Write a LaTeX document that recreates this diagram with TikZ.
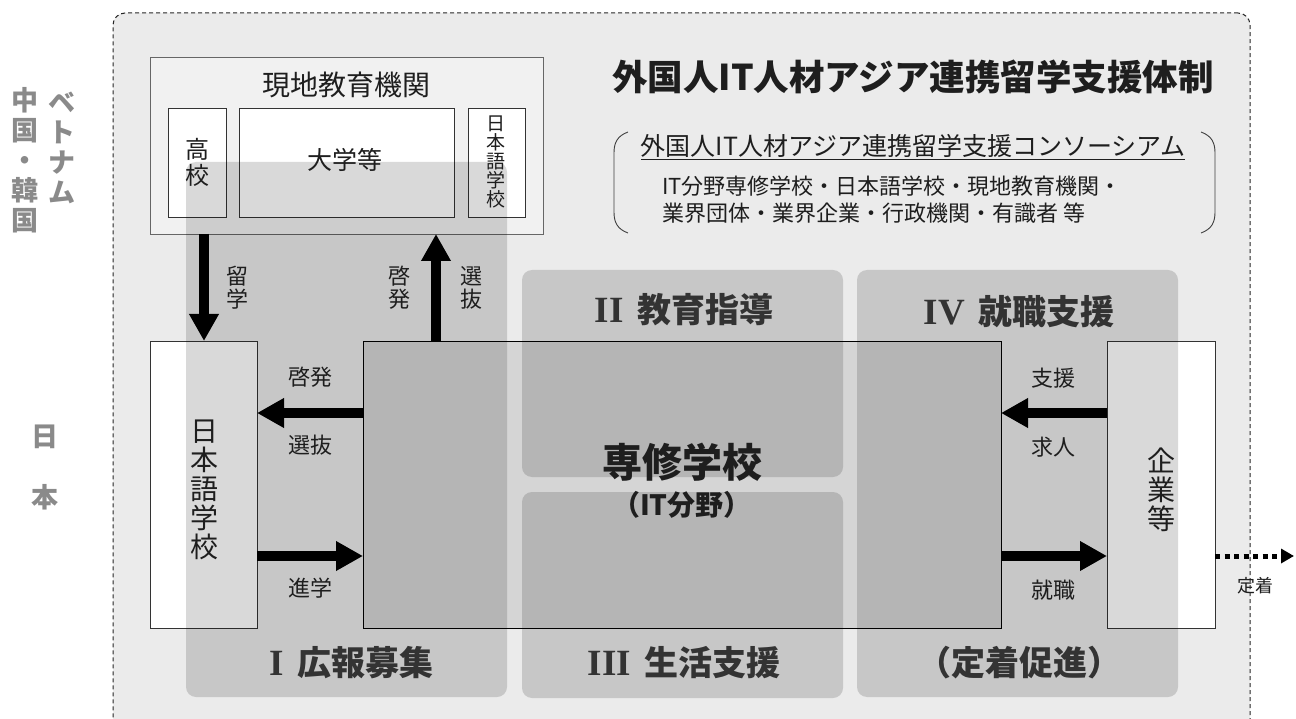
\documentclass[tikz,border=0pt]{standalone}
\usepackage{fontspec}
\setmainfont{Noto Sans CJK JP}
\newfontfamily\romanfont{Liberation Serif}
\usetikzlibrary{arrows.meta}
\definecolor{outerbg}{HTML}{EBEBEB}
\definecolor{genbg}{HTML}{F1F1F1}
\definecolor{txt}{HTML}{1E1E1E}
\definecolor{side}{HTML}{8A8A8A}
\definecolor{lbl}{HTML}{333333}
\newcommand\fsz[2]{\fontsize{#1}{#2}\selectfont}
\newcommand\rnum[1]{{\romanfont\bfseries\fsz{37}{38}#1}\hspace{0.4em}}
\tikzset{
  box/.style={draw=black!80, line width=0.9pt, fill=white, inner sep=0pt, outer sep=0pt, anchor=north west},
  colbox/.style={fill=black, fill opacity=0.15, draw=none, rounded corners=10pt, inner sep=0pt, outer sep=0pt, anchor=north west},
  bigarrow/.style={line width=9.5pt, -{Triangle[length=27pt,width=28pt]}},
  dotarrow/.style={line width=5pt, dash pattern=on 5pt off 4.5pt, -{Triangle[length=13pt,width=14pt]}},
  lab/.style={text=txt, font=\fsz{22}{24}, inner sep=0pt},
  vlab/.style={text=txt, font=\fsz{22}{23}, align=center, inner sep=0pt},
  collab/.style={text=lbl, font=\bfseries\fsz{34}{36}, inner sep=0pt},
  sidelab/.style={text=side, font=\bfseries\fsz{27}{30}, align=center, inner sep=0pt},
}
\begin{document}
\begin{tikzpicture}[x=1pt,y=-1pt]
\useasboundingbox (0,0) rectangle (1296,719);
\clip (0,0) rectangle (1296,719);
% outer frame
\node[draw=black!85, line width=1pt, dash pattern=on 4pt off 3pt, fill=outerbg, rounded corners=12pt,
      inner sep=0pt, outer sep=0pt, anchor=north west, minimum width=1137pt, minimum height=740pt] (outer) at (113,13) {};
% local institutions
\node[box, draw=black!60, fill=genbg, minimum width=393pt, minimum height=177pt] (genchi) at (150,57) {};
\node[box, minimum width=58pt, minimum height=109pt] (koko) at (168,108) {};
\node[box, minimum width=215pt, minimum height=109pt] (daigaku) at (239,108) {};
\node[box, minimum width=57pt, minimum height=109pt] (nihonS) at (468,108) {};
% Japan boxes
\node[box, minimum width=107pt, minimum height=287pt] (nihon) at (150,341) {};
\node[box, minimum width=108pt, minimum height=287pt] (kigyo) at (1107,341) {};
\node[box, draw=black, fill=black, fill opacity=0.09, minimum width=638pt, minimum height=287pt] (senshu) at (363,341) {};
% columns
\node[colbox, minimum width=321pt, minimum height=535pt] (colI) at (186,162) {};
\node[colbox, minimum width=321pt, minimum height=207pt] (colII) at (522,270) {};
\node[colbox, minimum width=321pt, minimum height=206pt] (colIII) at (522,492) {};
\node[colbox, minimum width=321pt, minimum height=427pt] (colIV) at (857,270) {};
% arrows
\coordinate (yA) at (0,413);
\coordinate (yB) at (0,556);
\coordinate (xA) at (204,0);
\coordinate (xB) at (436,0);
\coordinate (dend) at (1294,556);
\draw[bigarrow] (genchi.south -| xA) -- (nihon.north -| xA);
\draw[bigarrow] (senshu.north -| xB) -- (genchi.south -| xB);
\draw[bigarrow] (senshu.west |- yA) -- (nihon.east |- yA);
\draw[bigarrow] (nihon.east |- yB) -- (senshu.west |- yB);
\draw[bigarrow] (kigyo.west |- yA) -- (senshu.east |- yA);
\draw[bigarrow] (senshu.east |- yB) -- (kigyo.west |- yB);
\draw[dotarrow] (kigyo.east |- yB) -- (dend);
% consortium brackets
\draw[black!75, line width=0.9pt] (628,132) .. controls (617,136) and (614,143) .. (614,153) -- (614,212) .. controls (614,222) and (617,229) .. (628,233);
\draw[black!75, line width=0.9pt] (1201,132) .. controls (1212,136) and (1215,143) .. (1215,153) -- (1215,212) .. controls (1215,222) and (1212,229) .. (1201,233);
% texts
\node[text=txt, font=\bfseries\fsz{35.5}{36}, inner sep=0pt] (title) at (913,77) {外国人IT人材アジア連携留学支援体制};
\node[text=txt, font=\fsz{25}{27}, inner sep=0pt] (cons) at (913,147) {\underline{外国人IT人材アジア連携留学支援コンソーシアム}};
\node[text=txt, font=\fsz{22}{27}, align=left, inner sep=0pt, anchor=west] (members) at (662,200) {IT分野専修学校・日本語学校・現地教育機関・\\業界団体・業界企業・行政機関・有識者 等};
\node[text=txt, font=\fsz{28}{30}, inner sep=0pt] (genchiT) at (346,85) {現地教育機関};
\node[text=txt, font=\fsz{24}{26}, align=center, inner sep=0pt] (kokoT) at (197,162) {高\\校};
\node[text=txt, font=\fsz{25}{27}, inner sep=0pt] (daigakuT) at (345,160) {大学等};
\node[text=txt, font=\fsz{19}{19}, align=center, inner sep=0pt] (nihonST) at (496,162) {日\\本\\語\\学\\校};
\node[text=txt, font=\fsz{28}{29}, align=center, inner sep=0pt] (nihonT) at (204,490) {日\\本\\語\\学\\校};
\node[text=txt, font=\fsz{28}{29}, align=center, inner sep=0pt] (kigyoT) at (1161,490) {企\\業\\等};
\node[text=txt, font=\bfseries\fsz{40}{42}, inner sep=0pt] (senshuT) at (682,462) {専修学校};
\node[text=txt, font=\bfseries\fsz{28}{30}, inner sep=0pt] (senshuS) at (682,505) {（IT分野）};
% arrow labels
\node[vlab] (l1) at (237,288) {留\\学};
\node[vlab] (l2) at (399,288) {啓\\発};
\node[vlab] (l3) at (471,288) {選\\抜};
\node[lab] (l4) at (310,377) {啓発};
\node[lab] (l5) at (310,445) {選抜};
\node[lab] (l6) at (310,588) {進学};
\node[lab] (l7) at (1053,378) {支援};
\node[lab] (l8) at (1053,447) {求人};
\node[lab] (l9) at (1053,590) {就職};
\node[text=txt, font=\fsz{18}{20}, inner sep=0pt] (l10) at (1255,586) {定着};
% column labels
\node[collab] (cI) at (351,663) {\rnum{I}広報募集};
\node[collab] (cII) at (684,310) {\rnum{II}教育指導};
\node[collab] (cIII) at (684,663) {\rnum{III}生活支援};
\node[collab] (cIV) at (1019,312) {\rnum{IV}就職支援};
\node[collab] (cV) at (1019,663) {（定着促進）};
% side labels
\node[sidelab] (s1) at (25,160) {中\\国\\・\\韓\\国};
\node[sidelab] (s2) at (62,148) {ベ\\ト\\ナ\\ム};
\node[sidelab, font=\bfseries\fsz{27}{61}] (s3) at (45,467) {日\\本};
\end{tikzpicture}
\end{document}
